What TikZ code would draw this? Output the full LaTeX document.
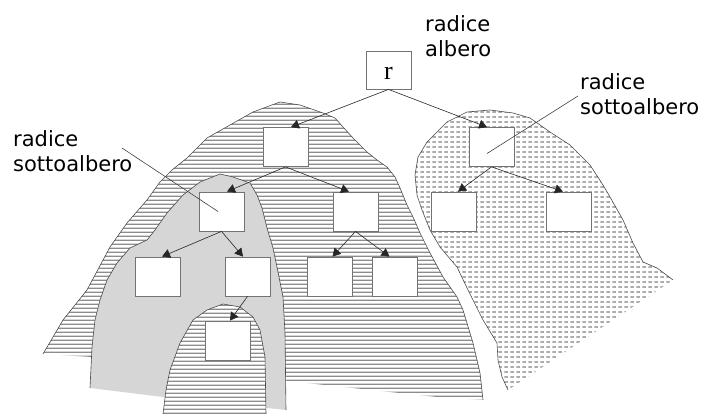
\documentclass[tikz,border=0pt]{standalone}
\usepackage{fontspec}
\setmainfont{DejaVu Sans}
\newfontfamily\serifr{Liberation Serif}
\usetikzlibrary{patterns,patterns.meta,arrows.meta}
\pgfdeclarepattern{
  name=hstripe,
  type=uncolored,
  bottom left={\pgfpoint{0pt}{0pt}},
  top right={\pgfpoint{4pt}{4.3pt}},
  tile size={\pgfpoint{4pt}{4.3pt}},
  code={
    \pgfsetlinewidth{1.5pt}
    \pgfpathmoveto{\pgfpoint{-1pt}{2pt}}
    \pgfpathlineto{\pgfpoint{5pt}{2pt}}
    \pgfusepath{stroke}
  }
}
\pgfdeclarepattern{
  name=hdash,
  type=uncolored,
  bottom left={\pgfpoint{0pt}{0pt}},
  top right={\pgfpoint{6pt}{5pt}},
  tile size={\pgfpoint{6pt}{5pt}},
  code={
    \pgfsetlinewidth{1.5pt}
    \pgfpathmoveto{\pgfpoint{0.5pt}{2.5pt}}
    \pgfpathlineto{\pgfpoint{4.5pt}{2.5pt}}
    \pgfusepath{stroke}
  }
}
\def\edgeA{(43,354) -- (63,320) -- (87,290) -- (110,247) -- (127,223) -- (147,200) -- (160,182) -- (172,170) -- (187,158) -- (207,138) -- (230,125) -- (253,112) -- (280,102) -- (300,105) -- (323,113) -- (335,118) -- (343,127) -- (353,138) -- (367,152) -- (377,160) -- (387,167) -- (395,177) -- (400,188) -- (407,205) -- (413,217) -- (420,233) -- (430,253) -- (443,277) -- (457,297) -- (463,310) -- (473,343) -- (480,373) -- (483,400)}
\def\edgeB{(508,390) -- (502,377) -- (498,360) -- (497,343) -- (483,320) -- (468,290) -- (457,267) -- (440,247) -- (430,230) -- (422,210) -- (417,195) -- (415,175) -- (418,157) -- (427,142) -- (447,122) -- (467,112) -- (490,110) -- (513,113) -- (530,118) -- (550,132) -- (570,145) -- (590,165) -- (603,185) -- (610,197) -- (623,220) -- (633,243) -- (643,262) -- (657,268) -- (673,280)}
\def\edgeC{(90,388) -- (92,347) -- (95,320) -- (100,300) -- (107,280) -- (117,263) -- (130,248) -- (147,240) -- (155,230) -- (167,213) -- (183,195) -- (200,182) -- (220,174) -- (233,177) -- (250,183) -- (257,195) -- (262,208) -- (267,228) -- (273,248) -- (277,267) -- (283,297) -- (285,333) -- (286,410)}
\def\edgeD{(163,414) -- (166,390) -- (170,370) -- (180,343) -- (193,320) -- (207,310) -- (223,304) -- (240,307) -- (253,317) -- (260,330) -- (265,357) -- (266,414)}
\begin{document}
\begin{tikzpicture}[x=1pt,y=-1pt,
  box/.style={draw=black!55, line width=0.8pt, fill=white, minimum width=45pt, minimum height=39pt, inner sep=0pt},
  edge/.style={draw=black!85, line width=0.6pt, -{Triangle[length=8pt,width=9pt]}},
  leader/.style={draw=black!75, line width=0.6pt},
  rim/.style={draw=black!70, line width=0.6pt},
  lbl/.style={align=left, font=\fontsize{21}{25}\selectfont, inner sep=0pt},
]
\useasboundingbox (0,0) rectangle (701,414);
% regions
\fill[pattern=hstripe, pattern color=black!45] \edgeA -- (437,397) -- (390,392) -- (297,382) -- (92,357) -- cycle;
\draw[rim] \edgeA;
\fill[pattern=hdash, pattern color=black!50] \edgeB -- cycle;
\draw[rim] \edgeB;
\fill[black!16] \edgeC -- (163,397) -- cycle;
\draw[rim] \edgeC;
\fill[white] \edgeD -- cycle;
\fill[pattern=hstripe, pattern color=black!45] \edgeD -- cycle;
\draw[rim] \edgeD;
% boxes
\node[box, minimum height=38pt, text height=20pt, text depth=0pt, font=\serifr\fontsize{26}{26}\selectfont] (r) at (388.5,70) {r};
\node[box] (A) at (285.5,147) {};
\node[box] (B) at (491.5,147) {};
\node[box] (C) at (221.5,211.5) {};
\node[box] (D) at (355.5,211.5) {};
\node[box] (E) at (453.5,211.5) {};
\node[box] (F) at (569,211.5) {};
\node[box] (G) at (157.5,276.5) {};
\node[box] (H) at (247.5,276.5) {};
\node[box] (I) at (329.5,276.5) {};
\node[box] (K) at (394.5,276.5) {};
\node[box] (J) at (227.5,340.5) {};
% arrows
\draw[edge] (r.south) -- ([xshift=5.5pt]A.north);
\draw[edge] (r.south) -- ([xshift=-4.5pt]B.north);
\draw[edge] (A.south) -- ([xshift=5.5pt]C.north);
\draw[edge] (A.south) -- ([xshift=-6.5pt]D.north);
\draw[edge] (B.south) -- ([xshift=4.5pt]E.north);
\draw[edge] (B.south) -- ([xshift=-6pt]F.north);
\draw[edge] (C.south) -- ([xshift=4.5pt]G.north);
\draw[edge] (C.south) -- ([xshift=-4.5pt]H.north);
\draw[edge] (D.south) -- ([xshift=3pt]I.north);
\draw[edge] (D.south) -- ([xshift=-5pt]K.north);
\draw[edge] (H.south) -- ([xshift=2.5pt]J.north);
% labels
\node[lbl, anchor=base west] (lroot) at (425,56.5) {radice\\albero};
\node[lbl, anchor=base west] (lleft) at (13,172) {radice\\sottoalbero};
\node[lbl, anchor=base west] (lright) at (580,115) {radice\\sottoalbero};
\coordinate (pl) at (122,148);
\coordinate (pr) at (578,96);
\draw[leader] (pl) -- ([xshift=-3.5pt]C.center);
\draw[leader] (pr) -- ([xshift=-4.5pt,yshift=-6.5pt]B.center);
\end{tikzpicture}
\end{document}
